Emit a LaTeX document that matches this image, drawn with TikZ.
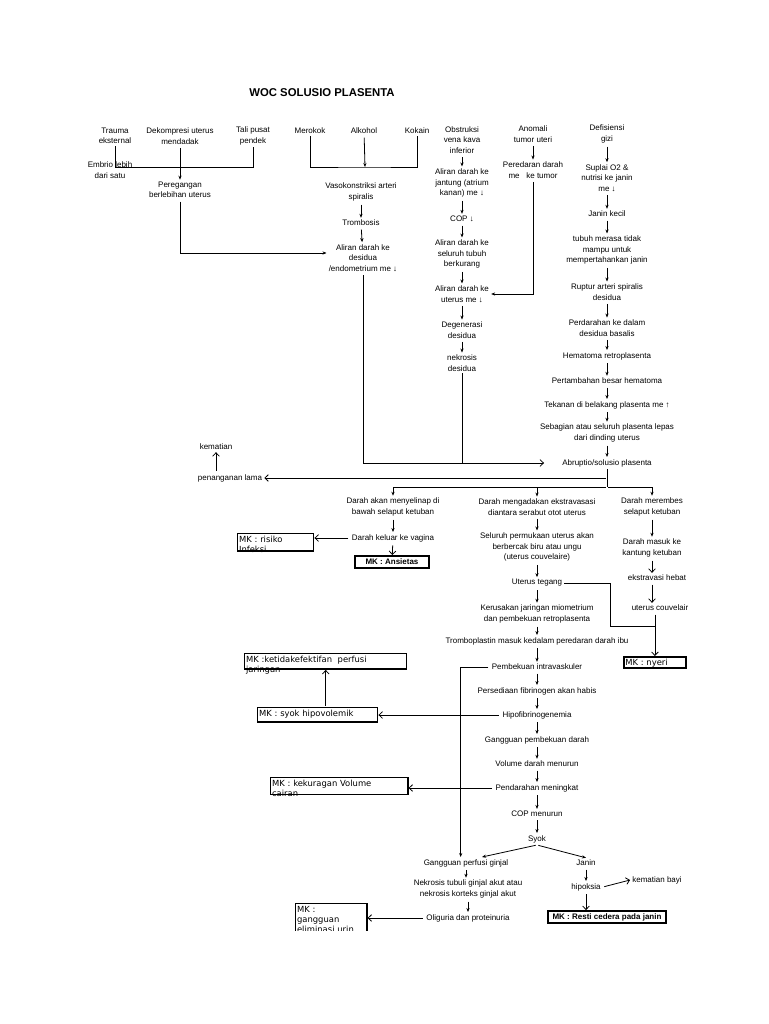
\documentclass[tikz,border=0pt]{standalone}
\usepackage{fontspec}
\setmainfont{Liberation Sans}
\newfontfamily\mkfont{DejaVu Sans}
\usetikzlibrary{arrows.meta}
\tikzset{
  lbl/.style={font=\fontsize{6}{7.9}\selectfont, align=center, inner sep=1.5pt},
  mkbox/.style={draw, line width=1.1pt, anchor=north west, align=left, inner sep=1pt,
    font=\mkfont\fontsize{6.3}{7.6}\selectfont, text height=5.6pt},
  mkbold/.style={draw, line width=1.4pt, inner sep=0pt, font=\bfseries\fontsize{6}{7}\selectfont},
  ln/.style={line width=0.6pt},
  arr/.style={line width=0.6pt, shorten <=1pt, -{Stealth[length=3pt,width=2.4pt]}},
  barb/.style={line width=0.6pt, shorten <=1pt, -{Straight Barb[length=2.6pt,width=5pt]}},
}

\begin{document}
\begin{tikzpicture}[x=0.75pt,y=-0.75pt]
% page = 768 x 1024 px, coordinates below are pixels, y grows downward
\useasboundingbox (0,0) rectangle (768,1024);
\begin{scope}
\clip (0,0) rectangle (768,930);

\node[font=\bfseries\fontsize{8.5}{10}\selectfont] (title) at (322,93) {WOC SOLUSIO PLASENTA};

% causes, top left
\node[lbl] (trauma) at (115,136) {Trauma\\eksternal};
\node[lbl] (dekomp) at (180,136) {Dekompresi uterus\\mendadak};
\node[lbl] (talipusat) at (253,136) {Tali pusat\\pendek};
\node[lbl] (embrio) at (110,170) {Embrio lebih\\dari satu};
\node[lbl] (regang) at (180,190) {Peregangan\\berlebihan uterus};

\node[lbl] (merokok) at (310,131) {Merokok};
\node[lbl] (alkohol) at (364,131) {Alkohol};
\node[lbl] (kokain) at (417,131) {Kokain};
\node[lbl] (vaso) at (361,192) {Vasokonstriksi arteri\\spiralis};
\node[lbl] (trombo) at (361,223) {Trombosis};
\node[lbl] (desidua) at (363,258) {Aliran darah ke\\desidua\\/endometrium me ↓};

% vena kava column
\node[lbl] (obstruksi) at (462,140) {Obstruksi\\vena kava\\inferior};
\node[lbl] (jantung) at (462,183) {Aliran darah ke\\jantung (atrium\\kanan) me ↓};
\node[lbl] (cop) at (462,219) {COP ↓};
\node[lbl] (seluruh) at (462,254) {Aliran darah ke\\seluruh tubuh\\berkurang};
\node[lbl] (keuterus) at (462,294) {Aliran darah ke\\uterus me ↓};
\node[lbl] (degen) at (462,330) {Degenerasi\\desidua};
\node[lbl] (nekrosis) at (462,363) {nekrosis\\desidua};

\node[lbl] (anomali) at (533,134) {Anomali\\tumor uteri};
\node[lbl] (peredaran) at (533,170) {Peredaran darah\\me~~~ke tumor};

% gizi column
\node[lbl] (defisiensi) at (607,134) {Defisiensi\\gizi};
\node[lbl] (suplai) at (607,178) {Suplai O2 \&\\nutrisi ke janin\\me ↓};
\node[lbl] (janinkecil) at (607,214) {Janin kecil};
\node[lbl] (tubuh) at (607,250) {tubuh merasa tidak\\mampu untuk\\mempertahankan janin};
\node[lbl] (ruptur) at (607,292) {Ruptur arteri spiralis\\desidua};
\node[lbl] (perdarahan) at (607,328) {Perdarahan ke dalam\\desidua basalis};
\node[lbl] (hematoma) at (607,356) {Hematoma retroplasenta};
\node[lbl] (tambah) at (607,381) {Pertambahan besar hematoma};
\node[lbl] (tekanan) at (607,405) {Tekanan di belakang plasenta me ↑};
\node[lbl] (lepas) at (607,433) {Sebagian atau seluruh plasenta lepas\\dari dinding uterus};
\node[lbl] (abruptio) at (607,463) {Abruptio/solusio plasenta};

\node[lbl] (kematian) at (216,447) {kematian};
\node[lbl] (lama) at (230,478) {penanganan lama};

% three branches below abruptio
\node[lbl] (selip) at (393,507) {Darah akan menyelinap di\\bawah selaput ketuban};
\node[lbl] (vagina) at (393,538) {Darah keluar ke vagina};
\node[mkbox, text width=55pt, text depth=5.5pt] (mkinf) at (237,533) {MK : risiko\\Infeksi};
\node[mkbold, minimum width=56pt, minimum height=9pt] (ansietas) at (392,562) {MK : Ansietas};

\node[lbl] (ekstra) at (537,507) {Darah mengadakan ekstravasasi\\diantara serabut otot uterus};
\node[lbl] (bercak) at (537,547) {Seluruh permukaan uterus akan\\berbercak biru atau ungu\\(uterus couvelaire)};
\node[lbl] (tegang) at (537,583) {Uterus tegang};
\node[lbl] (rusak) at (537,614) {Kerusakan jaringan miometrium\\dan pembekuan retroplasenta};
\node[lbl] (trombopl) at (537,641) {Tromboplastin masuk kedalam peredaran darah ibu};
\node[lbl] (bekuintra) at (537,667) {Pembekuan intravaskuler};
\node[lbl] (fibrino) at (537,691) {Persediaan fibrinogen akan habis};
\node[lbl] (hipofib) at (537,715) {Hipofibrinogenemia};
\node[lbl] (gangbeku) at (537,740) {Gangguan pembekuan darah};
\node[lbl] (volume) at (537,764) {Volume darah menurun};
\node[lbl] (pendmen) at (537,788) {Pendarahan meningkat};
\node[lbl] (copmen) at (537,814) {COP menurun};
\node[lbl] (syok) at (537,839) {Syok};

\node[lbl] (rembes) at (652,507) {Darah merembes\\selaput ketuban};
\node[lbl] (kantung) at (652,548) {Darah masuk ke\\kantung ketuban};
\node[lbl] (hebat) at (657,578) {ekstravasi hebat};
\node[lbl] (couv) at (660,608) {uterus couvelair};
\node[mkbox, line width=1.4pt, text width=44.5pt, text depth=1pt] (mknyeri) at (623,656) {MK : nyeri};

% diagnoses on the left
\node[mkbox, text width=119.5pt, text depth=4pt] (mkperfusi) at (244,653) {MK :ketidakefektifan~ perfusi\\jaringan};
\node[mkbox, text width=88pt, text depth=3.2pt] (mksyok) at (257,707) {MK : syok hipovolemik};
\node[mkbox, text width=100.8pt, text depth=4.8pt] (mkvol) at (270,777) {MK : kekuragan Volume\\cairan};

% after syok
\node[lbl] (ginjal) at (466,863) {Gangguan perfusi ginjal};
\node[lbl] (nekginjal) at (468,889) {Nekrosis tubuli ginjal akut atau\\nekrosis korteks ginjal akut};
\node[lbl] (oligo) at (468,918) {Oliguria dan proteinuria};
\node[mkbox, text width=51.3pt, text depth=16pt] (mkelim) at (295,903) {MK :\\gangguan\\eliminasi urin};
\node[lbl] (janin) at (586,863) {Janin};
\node[lbl] (hipoksia) at (586,887) {hipoksia};
\node[lbl] (matibayi) at (657,880) {kematian bayi};
\node[mkbold, minimum width=89pt, minimum height=9pt] (mkresti) at (607,917) {MK : Resti cedera pada janin};

% junctions
\coordinate (jtrauma) at (113,167);
\coordinate (jrokok) at (365,167);
\coordinate (jlama) at (607,478);
\coordinate (jcabang) at (607,487);
\coordinate (jtegang) at (610,626);

% connectors, top
\draw[ln] (trauma.south) -- (trauma.south |- jtrauma) -- (jtrauma -| talipusat.south) -- (talipusat.south);
\draw[arr] (dekomp) -- (regang);
\draw[arr] (regang.south) |- ([yshift=3.75pt]desidua.west);
\draw[ln] (merokok.south) |- (jrokok) -| (kokain.south);
\draw[arr] (alkohol) -- (jrokok);
\draw[arr] (vaso) -- (trombo);
\draw[arr] (trombo) -- (desidua);
\draw[barb, shorten >=12pt] (desidua.south) |- (abruptio.west);
\draw[ln] (nekrosis.south) -- (nekrosis.south |- abruptio.west);
\foreach \a/\b in {obstruksi/jantung, jantung/cop, cop/seluruh, seluruh/keuterus, keuterus/degen, degen/nekrosis}
  \draw[arr] (\a) -- (\b);
\draw[arr] (anomali) -- (peredaran);
\draw[arr] (peredaran.south) |- (keuterus.east);
\foreach \a/\b in {defisiensi/suplai, suplai/janinkecil, janinkecil/tubuh, tubuh/ruptur, ruptur/perdarahan,
    perdarahan/hematoma, hematoma/tambah, tambah/tekanan, tekanan/lepas, lepas/abruptio}
  \draw[arr] (\a) -- (\b);

% connectors, below abruptio
\draw[ln] (abruptio.south) -- (jcabang);
\draw[barb] (jlama) -- (lama.east);
\draw[barb] (lama.north -| kematian.south) -- (kematian.south);
\draw[arr] (jcabang) -| (selip.north);
\draw[arr] (jcabang) -| (rembes.north);
\draw[arr] (ekstra.north |- jcabang) -- (ekstra.north);
\draw[arr] (selip) -- (vagina);
\draw[barb] (vagina.west) -- (vagina.west -| mkinf.east);
\draw[barb] (vagina) -- (ansietas);
\foreach \a/\b in {ekstra/bercak, bercak/tegang, tegang/rusak, rusak/trombopl, trombopl/bekuintra,
    bekuintra/fibrino, fibrino/hipofib, hipofib/gangbeku, gangbeku/volume, volume/pendmen,
    pendmen/copmen, copmen/syok}
  \draw[arr] (\a) -- (\b);
\draw[arr] (rembes) -- (kantung);
\draw[barb] (kantung.south) -- (kantung.south |- hebat.north);
\draw[barb] (kantung.south |- hebat.south) -- (kantung.south |- couv.north);
\draw[barb] (mknyeri.north |- couv.south) -- (mknyeri.north);
\draw[ln] (tegang.east) -| (jtegang) -- (jtegang -| mknyeri.north);
\draw[arr] (bekuintra.west) -| ([xshift=-4pt]ginjal.north);
\draw[barb] (hipofib.west) -- (hipofib.west -| mksyok.east);
\draw[barb] (mkperfusi.south |- mksyok.north) -- (mkperfusi.south);
\draw[barb] (pendmen.west) -- (pendmen.west -| mkvol.east);
\draw[arr] (syok.south) -- ([xshift=12pt]ginjal.north);
\draw[arr] (syok.south) -- (janin.north);
\draw[arr] (ginjal) -- (nekginjal.north -| ginjal.south);
\draw[arr] (nekginjal) -- (oligo);
\draw[barb] (oligo.west) -- (oligo.west -| mkelim.east);
\draw[arr] (janin) -- (hipoksia);
\draw[barb] (hipoksia.east) -- (matibayi.west);
\draw[barb] (hipoksia) -- (hipoksia |- mkresti.north);
\end{scope}
\end{tikzpicture}
\end{document}
